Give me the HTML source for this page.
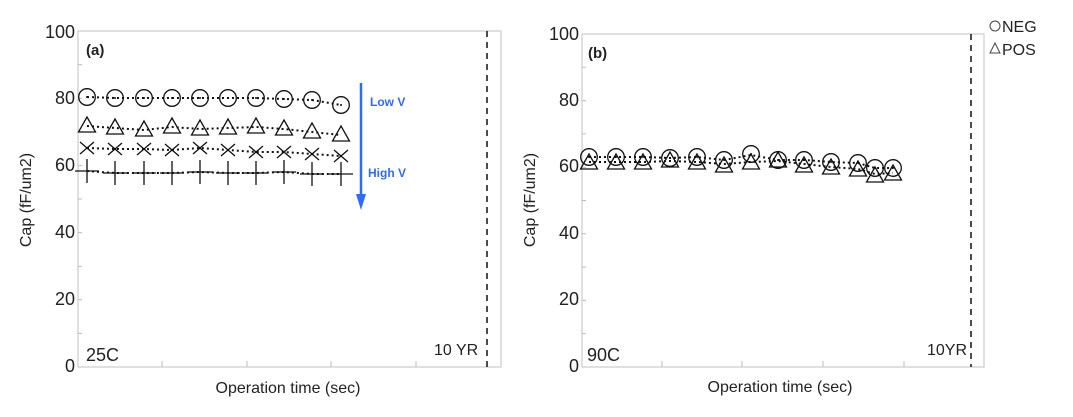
<!DOCTYPE html>
<html><head><meta charset="utf-8"><style>
html,body{margin:0;padding:0;background:#fff;}
svg{display:block;font-family:"Liberation Sans",sans-serif;}
</style></head><body>
<svg width="1073" height="417" viewBox="0 0 1073 417" xmlns="http://www.w3.org/2000/svg">
<defs>
<g id="c"><circle r="8.3" fill="none" stroke="#111" stroke-width="1.3"/><circle r="1" fill="#111"/></g>
<g id="t"><path d="M0,-9 L8.5,6 L-8.5,6 Z" fill="none" stroke="#111" stroke-width="1.3"/></g>
<g id="x"><path d="M-7,-6 L7,6 M-7,6 L7,-6" stroke="#111" stroke-width="1.3"/></g>
<g id="p"><path d="M-12,0 L12,0 M0,-12 L0,12" stroke="#111" stroke-width="1.3"/></g>
</defs>
<g fill="#222" font-size="18">
<!-- Panel A -->
<rect x="78" y="31" width="423" height="336" fill="none" stroke="#ccc" stroke-width="1.2"/>
<g stroke="#bbb" stroke-width="1">
<path d="M78,64.6h4M78,98.2h4M78,131.8h4M78,165.4h4M78,199h4M78,232.6h4M78,266.2h4M78,299.8h4M78,333.4h4"/>
<path d="M162,367v-6M247,367v-6M331,367v-6M416,367v-6"/>
</g>
<line x1="487" y1="31" x2="487" y2="367" stroke="#111" stroke-width="1.5" stroke-dasharray="6,5"/>
<g text-anchor="end"><text x="75" y="38">100</text><text x="75" y="104">80</text><text x="75" y="171">60</text><text x="75" y="238">40</text><text x="75" y="305">20</text><text x="75" y="372">0</text></g>
<text transform="translate(31,200) rotate(-90)" text-anchor="middle" font-size="16">Cap (fF/um2)</text>
<text x="288" y="393" text-anchor="middle" font-size="16">Operation time (sec)</text>
<text x="86" y="55" font-weight="bold" font-size="15">(a)</text>
<text x="86" y="361">25C</text>
<text x="434" y="355" font-size="16">10 YR</text>
<g fill="none" stroke="#111" stroke-width="2" stroke-dasharray="2,3">
<polyline points="87,97 115,98 144,98 172,98 200,98 228,98 256,98 284,99 312,100 341,105"/>
<polyline points="87,126 115,128 144,130 172,127 200,129 228,128 256,127 284,129 312,132 341,135"/>
<polyline points="87,148 115,149 144,149 172,150 200,148 228,150 256,152 284,152 312,154 341,156"/>
<polyline points="87,171 115,173 144,173 172,173 200,172 228,173 256,173 284,172 312,174 341,174"/>
</g>
<use href="#c" x="87" y="97"/><use href="#c" x="115" y="98"/><use href="#c" x="144" y="98"/><use href="#c" x="172" y="98"/><use href="#c" x="200" y="98"/><use href="#c" x="228" y="98"/><use href="#c" x="256" y="98"/><use href="#c" x="284" y="99"/><use href="#c" x="312" y="100"/><use href="#c" x="341" y="105"/>
<use href="#t" x="87" y="126"/><use href="#t" x="115" y="128"/><use href="#t" x="144" y="130"/><use href="#t" x="172" y="127"/><use href="#t" x="200" y="129"/><use href="#t" x="228" y="128"/><use href="#t" x="256" y="127"/><use href="#t" x="284" y="129"/><use href="#t" x="312" y="132"/><use href="#t" x="341" y="135"/>
<use href="#x" x="87" y="148"/><use href="#x" x="115" y="149"/><use href="#x" x="144" y="149"/><use href="#x" x="172" y="150"/><use href="#x" x="200" y="148"/><use href="#x" x="228" y="150"/><use href="#x" x="256" y="152"/><use href="#x" x="284" y="152"/><use href="#x" x="312" y="154"/><use href="#x" x="341" y="156"/>
<use href="#p" x="87" y="171"/><use href="#p" x="115" y="173"/><use href="#p" x="144" y="173"/><use href="#p" x="172" y="173"/><use href="#p" x="200" y="172"/><use href="#p" x="228" y="173"/><use href="#p" x="256" y="173"/><use href="#p" x="284" y="172"/><use href="#p" x="312" y="174"/><use href="#p" x="341" y="174"/>
<line x1="361" y1="83" x2="361" y2="200" stroke="#2f6bf5" stroke-width="2.5"/>
<path d="M356,194 L361,210 L366,194 Z" fill="#2f6bf5"/>
<text x="370" y="106" fill="#2f6bf5" font-weight="bold" font-size="12">Low V</text>
<text x="368" y="177" fill="#2f6bf5" font-weight="bold" font-size="12">High V</text>

<!-- Panel B -->
<rect x="582" y="34" width="402" height="333" fill="none" stroke="#ccc" stroke-width="1.2"/>
<g stroke="#bbb" stroke-width="1">
<path d="M582,67.3h4M582,100.6h4M582,133.9h4M582,167.2h4M582,200.5h4M582,233.8h4M582,267.1h4M582,300.4h4M582,333.7h4"/>
<path d="M662,367v-6M742,367v-6M823,367v-6M904,367v-6"/>
</g>
<line x1="971" y1="34" x2="971" y2="367" stroke="#111" stroke-width="1.5" stroke-dasharray="6,5"/>
<g text-anchor="end"><text x="579" y="40">100</text><text x="579" y="106">80</text><text x="579" y="172">60</text><text x="579" y="239">40</text><text x="579" y="305">20</text><text x="579" y="372">0</text></g>
<text transform="translate(535,200) rotate(-90)" text-anchor="middle" font-size="16">Cap (fF/um2)</text>
<text x="780" y="392" text-anchor="middle" font-size="16">Operation time (sec)</text>
<text x="588" y="58" font-weight="bold" font-size="15">(b)</text>
<text x="587" y="361">90C</text>
<text x="927" y="355" font-size="16">10YR</text>
<g fill="none" stroke="#111" stroke-width="2" stroke-dasharray="2,3">
<polyline points="589,157 616,157 643,157 670,158 697,157 724,160 751,155 778,160 804,160 831,162 858,163 875,168 893,168"/>
<polyline points="589,162 616,162 643,162 670,161 697,162 724,164 751,162 778,161 804,164 831,167 858,169 875,174 893,173"/>
</g>
<use href="#c" x="589" y="157"/><use href="#c" x="616" y="157"/><use href="#c" x="643" y="157"/><use href="#c" x="670" y="158"/><use href="#c" x="697" y="157"/><use href="#c" x="724" y="160"/><use href="#c" x="751" y="154"/><use href="#c" x="778" y="160"/><use href="#c" x="804" y="160"/><use href="#c" x="831" y="162"/><use href="#c" x="858" y="163"/><use href="#c" x="875" y="168"/><use href="#c" x="893" y="168"/>
<use href="#t" x="589" y="163"/><use href="#t" x="616" y="163"/><use href="#t" x="643" y="163"/><use href="#t" x="670" y="161"/><use href="#t" x="697" y="163"/><use href="#t" x="724" y="166"/><use href="#t" x="751" y="163"/><use href="#t" x="778" y="161"/><use href="#t" x="804" y="166"/><use href="#t" x="831" y="168"/><use href="#t" x="858" y="170"/><use href="#t" x="875" y="176"/><use href="#t" x="893" y="174"/>
<circle cx="995" cy="26" r="5" fill="none" stroke="#444" stroke-width="1"/>
<path d="M995,43 L1000,53 L990,53 Z" fill="none" stroke="#444" stroke-width="1"/>
<text x="1002" y="32" font-size="16">NEG</text>
<text x="1002" y="55" font-size="16">POS</text>
</g>
</svg>
</body></html>
